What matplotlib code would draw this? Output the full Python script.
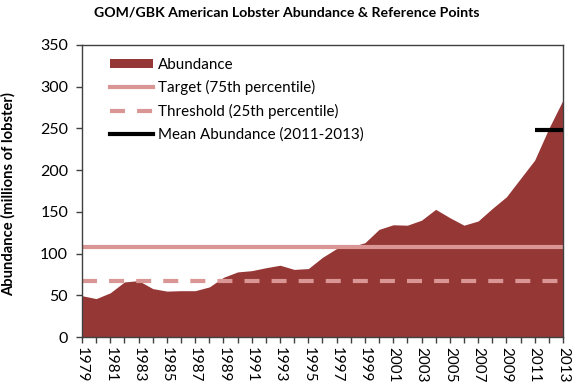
import matplotlib
matplotlib.use("Agg")
import matplotlib.pyplot as plt
from matplotlib.patches import Patch
from matplotlib.lines import Line2D

plt.rcParams['font.family'] = ['Lato', 'DejaVu Sans']

years = list(range(1979, 2014))
abundance = [49.5, 46, 53, 66, 67.5, 58, 55, 55.5, 55.5, 60,
             71.5, 78, 79.5, 83, 86, 81, 82, 95.5, 106, 108,
             113, 129, 134.5, 134, 140, 153, 143, 134, 139, 154,
             168, 190, 212, 250, 284]
target = 107.5
threshold = 67.5
mean_years = [2011, 2013]
mean_value = 248.5
ytick_vals = [0, 50, 100, 150, 200, 250, 300, 350]

area_color = '#953735'
line_color = '#D99694'
spine_color = '#404040'

fig = plt.figure(figsize=(5.77, 3.92), dpi=100)
ax = fig.add_axes([0.1421, 0.1403, 0.8336, 0.745])

ax.fill_between(years, abundance, 0, color=area_color, linewidth=0, zorder=1)
ax.axhline(target, color=line_color, lw=3, zorder=2)
ax.axhline(threshold, color=line_color, lw=3, ls=(0, (3.6, 2.9)), zorder=2)
ax.plot(mean_years, [mean_value, mean_value], color='black', lw=3,
        solid_capstyle='butt', zorder=3)

ax.set_xlim(1979, 2013)
ax.set_ylim(0, 350)
ax.set_yticks(ytick_vals)
ax.set_xticks(years)
ax.set_xticklabels([str(y) if (y - 1979) % 2 == 0 else '' for y in years],
                   rotation=-90, fontsize=11)
ax.tick_params(axis='x', direction='out', length=4, width=1, color=spine_color, pad=3)
ax.tick_params(axis='y', direction='out', length=4, width=1, color=spine_color,
               labelsize=11.5, pad=6)
for s in ax.spines.values():
    s.set_color(spine_color)
    s.set_linewidth(1)

ax.set_ylabel('Abundance (millions of lobster)', fontsize=10.6, fontweight='bold')
ax.yaxis.set_label_coords(-0.137, 0.49)
fig.suptitle('GOM/GBK American Lobster Abundance & Reference Points',
             fontsize=10.2, fontweight='bold', x=0.497, y=0.983)

handles = [Patch(facecolor=area_color, edgecolor='none'),
           Line2D([0], [0], color=line_color, lw=3),
           Line2D([0], [0], color=line_color, lw=3, ls=(0, (3.6, 2.9))),
           Line2D([0], [0], color='black', lw=3)]
labels = ['Abundance', 'Target (75th percentile)', 'Threshold (25th percentile)',
          'Mean Abundance (2011-2013)']
leg = ax.legend(handles, labels, loc='upper left', bbox_to_anchor=(0.046, 0.976),
                frameon=False, fontsize=10.9, handlelength=2.8, handleheight=0.55,
                labelspacing=0.55, handletextpad=0.33, borderaxespad=0.0)

fig.savefig('out.png', dpi=100)
